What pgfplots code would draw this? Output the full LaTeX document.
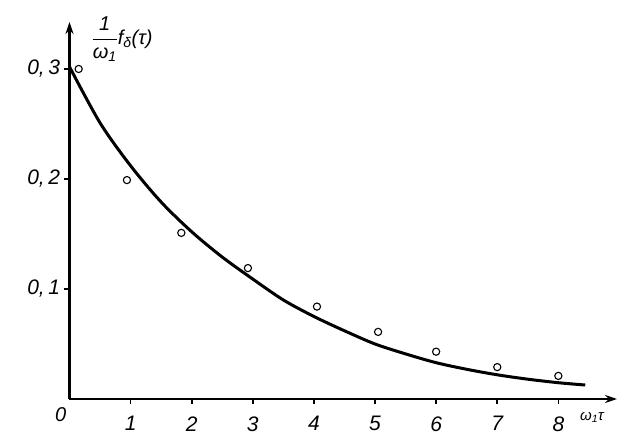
\documentclass[border=0pt]{standalone}
\usepackage{pgfplots}
\pgfplotsset{compat=1.18}
\usetikzlibrary{arrows.meta}
\usepackage{fontspec}
\setmainfont{Liberation Sans}
\begin{document}
\begin{tikzpicture}[x=1pt,y=1pt]
\begin{axis}[
    scale only axis,
    width=547.5pt,
    height=377pt,
    xmin=0, xmax=8.96,
    ymin=0, ymax=0.3427,
    axis lines=left,
    axis line style={line width=2.2pt, -{Stealth[length=12pt,width=8pt]}},
    xtick={1,2,3,4,5,6,7,8},
    xticklabels={1,2,3,4,5,6,7,8},
    ytick={0.1,0.2,0.3},
    yticklabels={{0,\,1},{0,\,2},{0,\,3}},
    tick align=outside,
    major tick length=5pt,
    tick style={line width=1.6pt, black},
    ticklabel style={font=\fontsize{21}{21}\selectfont\itshape},
    xticklabel style={yshift=-9pt},
    yticklabel style={xshift=-1pt},
    clip=false,
]
% fitted curve
\addplot [black, line width=3pt, smooth] coordinates {
(0,0.302)
(0.5,0.251)
(1,0.212)
(1.5,0.179)
(2,0.152)
(2.5,0.129)
(3,0.109)
(3.5,0.090)
(4,0.075)
(4.5,0.062)
(5,0.050)
(5.5,0.041)
(6,0.033)
(6.5,0.027)
(7,0.022)
(7.5,0.018)
(8,0.0148)
(8.44,0.0127)
};
% measured points
\addplot [only marks, mark=o, mark size=3.6pt, line width=1.1pt, black] coordinates {
(0.15,0.300)
(0.94,0.199)
(1.83,0.151)
(2.92,0.119)
(4.05,0.084)
(5.05,0.061)
(6.0,0.043)
(7.0,0.029)
(8.0,0.021)
};
\node[anchor=north east, font=\fontsize{20}{20}\selectfont\itshape, inner sep=0pt] at (axis cs:-0.05,-0.008) {0};
\node[font=\fontsize{15}{15}\selectfont\itshape] at (axis cs:8.55,-0.0165) {ω\textsubscript{1}τ};
\node[font=\fontsize{20}{20}\selectfont\itshape] at (axis cs:0.86,0.327)
  {$\displaystyle\frac{\mbox{\itshape 1}}{\mbox{\itshape ω\textsubscript{1}}}$\mbox{f\textsubscript{δ}(τ)}};
\end{axis}
\pgfresetboundingbox
\path[use as bounding box] (-69.5,-47) rectangle (558.5,399);
\end{tikzpicture}
\end{document}
